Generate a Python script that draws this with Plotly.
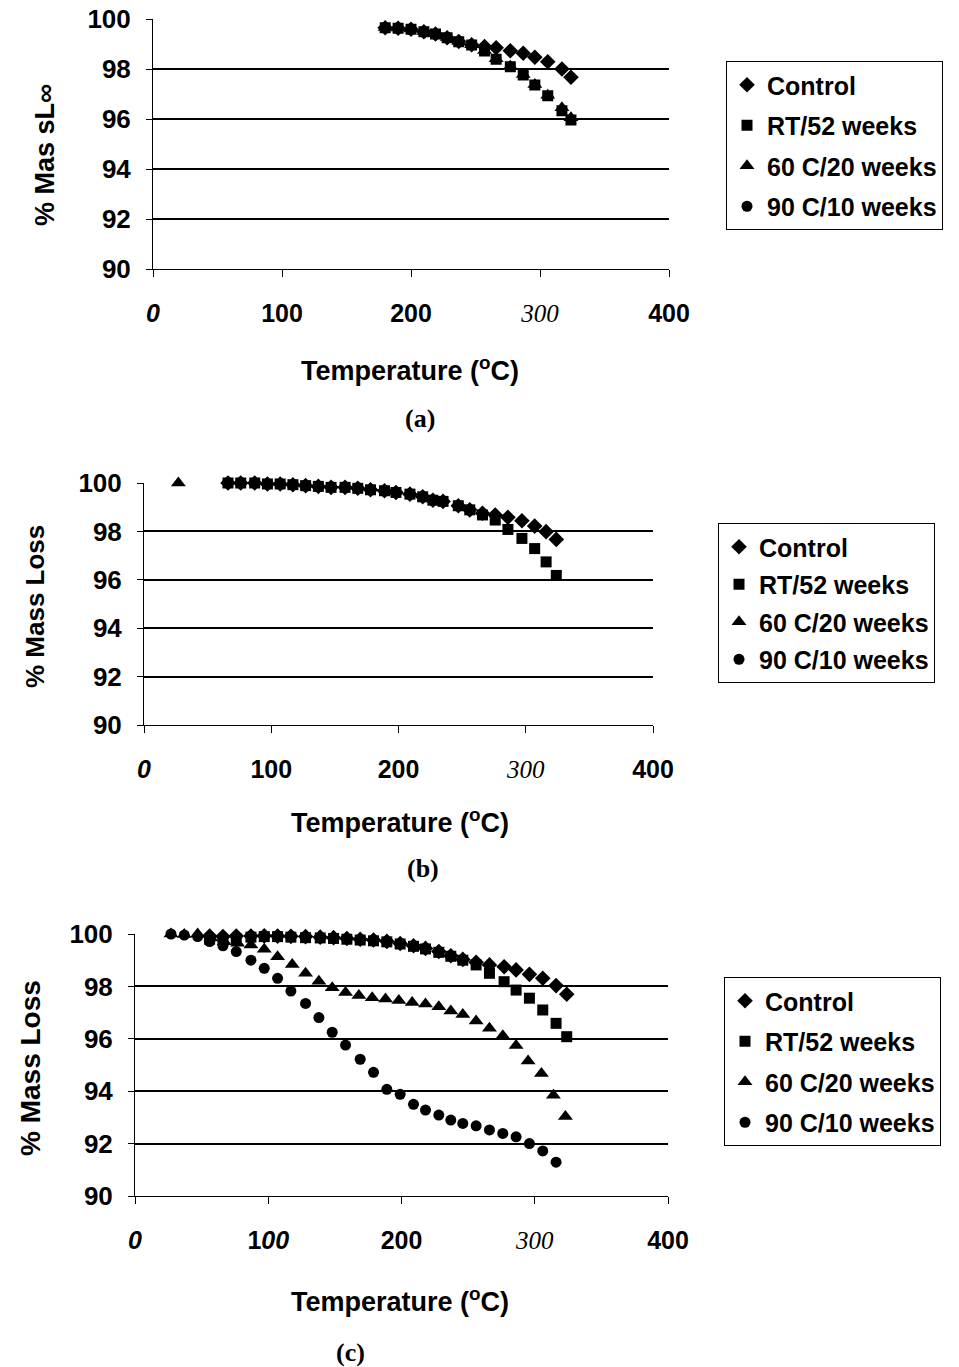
import plotly.graph_objects as go

# ---------------- data ----------------
series_names = ["Control", "RT/52 weeks", "60 C/20 weeks", "90 C/10 weeks"]
x_ticks = [0, 100, 200, 300, 400]
y_ticks = [90, 92, 94, 96, 98, 100]

# panel (a)
a_temp = [180, 190, 200, 210, 219, 228, 237, 247, 257, 266, 277, 287, 296, 306, 317, 324]
a_control = [99.65, 99.63, 99.59, 99.49, 99.40, 99.25, 99.10, 98.97, 98.90, 98.85, 98.73, 98.63, 98.47, 98.29, 98.00, 97.67]
a_rt52 = [99.65, 99.63, 99.59, 99.49, 99.40, 99.25, 99.09, 98.96, 98.72, 98.39, 98.09, 97.76, 97.36, 96.93, 96.33, 95.96]
a_60c = [99.66, 99.64, 99.60, 99.50, 99.41, 99.26, 99.10, 98.97, 98.74, 98.41, 98.11, 97.78, 97.38, 96.95, 96.45, 96.05]
a_90c_temp = [None]
a_90c = [None]

# panel (b)
b_temp = [66, 76, 87, 97, 107, 117, 127, 137, 147, 158, 168, 178, 189, 198, 209, 219, 227,
          235, 247, 256, 266, 276, 286, 297, 307, 316, 324]
b_control = [100.0, 100.0, 100.0, 99.96, 99.96, 99.93, 99.89, 99.86, 99.82, 99.82, 99.78, 99.72, 99.68, 99.61, 99.54, 99.43, 99.29,
             99.24, 99.06, 98.89, 98.75, 98.68, 98.58, 98.44, 98.22, 97.99, 97.67]
b_rt52 = [100.0, 100.0, 100.0, 99.96, 99.96, 99.93, 99.89, 99.86, 99.82, 99.82, 99.78, 99.72, 99.68, 99.61, 99.54, 99.43, 99.29,
          99.24, 99.06, 98.89, 98.68, 98.47, 98.08, 97.71, 97.29, 96.74, 96.18]
b_60c_temp = [27]
b_60c = [100.0]
b_90c_temp = [None]
b_90c = [None]

# panel (c)
c_temp_dr = [56, 66, 76, 87, 97, 107, 117, 128, 139, 149, 159, 169, 179, 189, 199, 209, 218, 228, 237, 246,
             256, 266, 277, 286, 296, 306, 316, 324]
c_control = [99.92, 99.90, 99.92, 99.92, 99.93, 99.92, 99.91, 99.90, 99.88, 99.86, 99.83, 99.80, 99.77, 99.72, 99.64,
             99.55, 99.45, 99.33, 99.17, 99.03, 98.92, 98.82, 98.75, 98.63, 98.46, 98.31, 98.03, 97.70]
c_rt52 = [99.80, 99.75, 99.80, 99.88, 99.90, 99.90, 99.88, 99.86, 99.85, 99.83, 99.80, 99.77, 99.74, 99.70, 99.62,
          99.53, 99.43, 99.30, 99.15, 99.00, 98.82, 98.50, 98.18, 97.86, 97.55, 97.10, 96.59, 96.08]
c_temp_60 = [27, 37, 47, 57, 67, 77, 87, 97, 107, 118, 128, 138, 148, 158, 168, 178, 188, 198, 208, 218,
             228, 237, 246, 256, 266, 276, 286, 295, 305, 314, 323]
c_60c = [100.0, 99.98, 100.0, 99.85, 99.70, 99.65, 99.58, 99.42, 99.13, 98.84, 98.50, 98.20, 97.95, 97.77, 97.65,
         97.57, 97.52, 97.46, 97.39, 97.33, 97.22, 97.06, 96.93, 96.68, 96.40, 96.12, 95.74, 95.15, 94.68, 93.85, 93.03]
c_temp_90 = [27, 37, 47, 56, 66, 76, 87, 97, 107, 117, 128, 138, 148, 158, 169, 179, 189, 199, 209, 218,
             228, 237, 246, 256, 266, 276, 286, 296, 306, 316]
c_90c = [100.0, 99.96, 99.90, 99.71, 99.55, 99.33, 99.00, 98.69, 98.31, 97.82, 97.35, 96.81, 96.25, 95.76, 95.22,
         94.72, 94.07, 93.88, 93.50, 93.28, 93.09, 92.90, 92.77, 92.68, 92.52, 92.39, 92.26, 92.00, 91.72, 91.29]

# ---------------- figure ----------------
W, H = 959, 1367
SANS = "Liberation Sans, Arial, sans-serif"
SERIF = "Liberation Serif, Times New Roman, serif"

symbols = ["diamond", "square", "triangle-up", "circle"]
sizes = [12, 11, 13, 11]

fig = go.Figure()

panels = [
    dict(name="a", xdom=(153, 669), ydom=(19, 269),
         data=[(a_temp, a_control), (a_temp, a_rt52), (a_temp, a_60c), (a_90c_temp, a_90c)],
         legend=dict(x=726, y=61, size=25, gap=5)),
    dict(name="b", xdom=(144, 653), ydom=(483, 725),
         data=[(b_temp, b_control), (b_temp, b_rt52), (b_60c_temp, b_60c), (b_90c_temp, b_90c)],
         legend=dict(x=718, y=523, size=25, gap=2)),
    dict(name="c", xdom=(135, 668), ydom=(934, 1196),
         data=[(c_temp_dr, c_control), (c_temp_dr, c_rt52), (c_temp_60, c_60c), (c_temp_90, c_90c)],
         legend=dict(x=724, y=977, size=25, gap=5)),
]

def serif_it(t):
    return "<span style=\"font-family:'Liberation Serif';font-weight:normal\"><i>%s</i></span>" % t

tick_text_ac = ["<i>0</i>", "<b>100</b>", "<b>200</b>", serif_it("300"), "<b>400</b>"]
tick_text_c = ["<i>0</i>", "<b>1</b><i>00</i>", "<b>200</b>", serif_it("300"), "<b>400</b>"]

for i, p in enumerate(panels):
    ax = "" if i == 0 else str(i + 1)
    leg = "legend" if i == 0 else "legend%d" % (i + 1)
    for j, (xs, ys) in enumerate(p["data"]):
        fig.add_trace(go.Scatter(
            x=xs, y=ys, mode="markers", name=series_names[j],
            marker=dict(symbol=symbols[j], size=sizes[j], color="black"),
            xaxis="x" + ax, yaxis="y" + ax, legend=leg, showlegend=True,
            legendgroup="%s%d" % (p["name"], j), cliponaxis=False,
        ))
    x0, x1 = p["xdom"]
    y0, y1 = p["ydom"]
    fig.update_layout({
        "xaxis" + ax: dict(
            domain=[x0 / W, x1 / W], range=[0, 400], anchor="y" + ax, automargin=False,
            tickvals=x_ticks, ticktext=tick_text_c if p["name"] == "c" else tick_text_ac,
            showgrid=False, zeroline=False, showline=True, linecolor="black", linewidth=1,
            ticks="outside", ticklen=7, tickcolor="black", ticklabelstandoff=15,
            tickfont=dict(family=SANS, size=25, color="black", weight="bold"),
        ),
        "yaxis" + ax: dict(
            domain=[1 - y1 / H, 1 - y0 / H], range=[90, 100], anchor="x" + ax, automargin=False,
            tickvals=y_ticks, ticktext=[str(v) for v in y_ticks],
            showgrid=True, gridcolor="black", gridwidth=1.6, zeroline=False,
            showline=True, linecolor="black", linewidth=1,
            ticks="outside", ticklen=6, tickcolor="black", ticklabelstandoff=10,
            tickfont=dict(family=SANS, size=26, color="black", weight="bold"),
        ),
        leg: dict(
            x=p["legend"]["x"] / W, y=1 - p["legend"]["y"] / H, xanchor="left", yanchor="top",
            bgcolor="white", bordercolor="black", borderwidth=1,
            font=dict(family=SANS, size=p["legend"]["size"], color="black", weight="bold"),
            traceorder="grouped", tracegroupgap=p["legend"]["gap"], itemwidth=30,
        ),
    })

annotations = []
# y axis titles
ytitles = [("% Mas sL∞", 45, 155, 27), ("% Mass Loss", 35, 607, 26), ("% Mass Loss", 30, 1068, 28)]
for txt, xp, yp, sz in ytitles:
    annotations.append(dict(text="<b>%s</b>" % txt, x=xp / W, y=1 - yp / H, xref="paper", yref="paper",
                            showarrow=False, textangle=-90, xanchor="center", yanchor="middle",
                            font=dict(family=SANS, size=sz, color="black")))
# x axis titles
xtitles = [(410, 369), (400, 821), (400, 1300)]
for xp, yp in xtitles:
    annotations.append(dict(text="<b>Temperature (<sup>o</sup>C)</b>", x=xp / W, y=1 - yp / H,
                            xref="paper", yref="paper", showarrow=False, xanchor="center", yanchor="middle",
                            font=dict(family=SANS, size=27, color="black")))
# captions
captions = [("(a)", 420, 418), ("(b)", 423, 868), ("(c)", 350, 1352)]
for txt, xp, yp in captions:
    annotations.append(dict(text="<b>%s</b>" % txt, x=xp / W, y=1 - yp / H, xref="paper", yref="paper",
                            showarrow=False, xanchor="center", yanchor="middle",
                            font=dict(family=SERIF, size=26, color="black")))

fig.update_layout(
    width=W, height=H, margin=dict(l=0, r=0, t=0, b=0, autoexpand=False),
    paper_bgcolor="white", plot_bgcolor="white",
    annotations=annotations, showlegend=True,
)

fig.write_html("out.html")
